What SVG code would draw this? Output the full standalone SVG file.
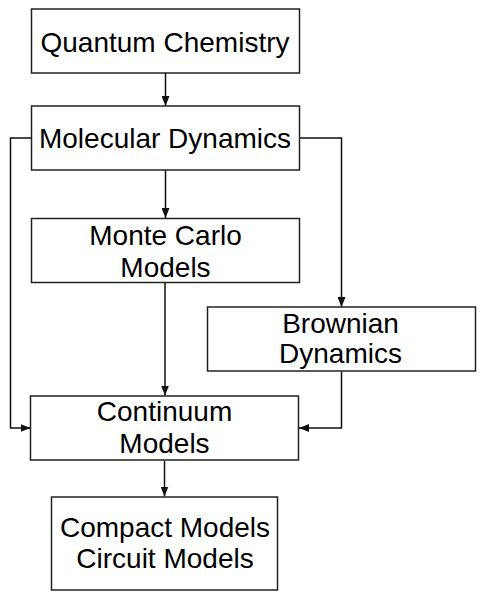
<svg xmlns="http://www.w3.org/2000/svg" width="483" height="600" viewBox="0 0 483 600">
<style>
.box{fill:#fff;stroke:#222;stroke-width:1.5}
.t{font-family:"Liberation Sans",Arial,sans-serif;font-size:28px;fill:#000;text-anchor:middle}
.c{fill:none;stroke:#111;stroke-width:1.5}
</style>
<defs>
<marker id="ah" viewBox="0 0 10 8" refX="10" refY="4" markerWidth="10" markerHeight="8" markerUnits="userSpaceOnUse" orient="auto">
<path d="M0,0 L10,4 L0,8 z" fill="#111"/>
</marker>
</defs>
<rect width="483" height="600" fill="#fff"/>
<g id="connectors">
<path class="c" d="M165.5,73 V106" marker-end="url(#ah)"/>
<path class="c" d="M165.5,170 V218" marker-end="url(#ah)"/>
<path class="c" d="M31,138 H10.5 V428 H30.5" marker-end="url(#ah)"/>
<path class="c" d="M299.5,138 H341.5 V307" marker-end="url(#ah)"/>
<path class="c" d="M165,283 V395.5" marker-end="url(#ah)"/>
<path class="c" d="M341.5,371.5 V428 H299" marker-end="url(#ah)"/>
<path class="c" d="M164.5,460.5 V496.5" marker-end="url(#ah)"/>
</g>
<g id="quantum-chemistry">
<rect class="box" x="31.5" y="9" width="268" height="64"/>
<text class="t" x="165" y="51.5">Quantum Chemistry</text>
</g>
<g id="molecular-dynamics">
<rect class="box" x="31.5" y="106" width="268" height="64"/>
<text class="t" x="165" y="147.5">Molecular Dynamics</text>
</g>
<g id="monte-carlo">
<rect class="box" x="31.5" y="218.5" width="268" height="64"/>
<text class="t" x="165.5" y="244.5">Monte Carlo</text>
<text class="t" x="165.5" y="276.5">Models</text>
</g>
<g id="brownian">
<rect class="box" x="207.5" y="307" width="268" height="64"/>
<text class="t" x="340.5" y="332.5">Brownian</text>
<text class="t" x="340.5" y="363">Dynamics</text>
</g>
<g id="continuum">
<rect class="box" x="30.5" y="396" width="268" height="64"/>
<text class="t" x="164.5" y="421">Continuum</text>
<text class="t" x="164.5" y="453">Models</text>
</g>
<g id="compact">
<rect class="box" x="51.5" y="497" width="226" height="93"/>
<text class="t" x="165" y="536.5">Compact Models</text>
<text class="t" x="165" y="568">Circuit Models</text>
</g>
</svg>
